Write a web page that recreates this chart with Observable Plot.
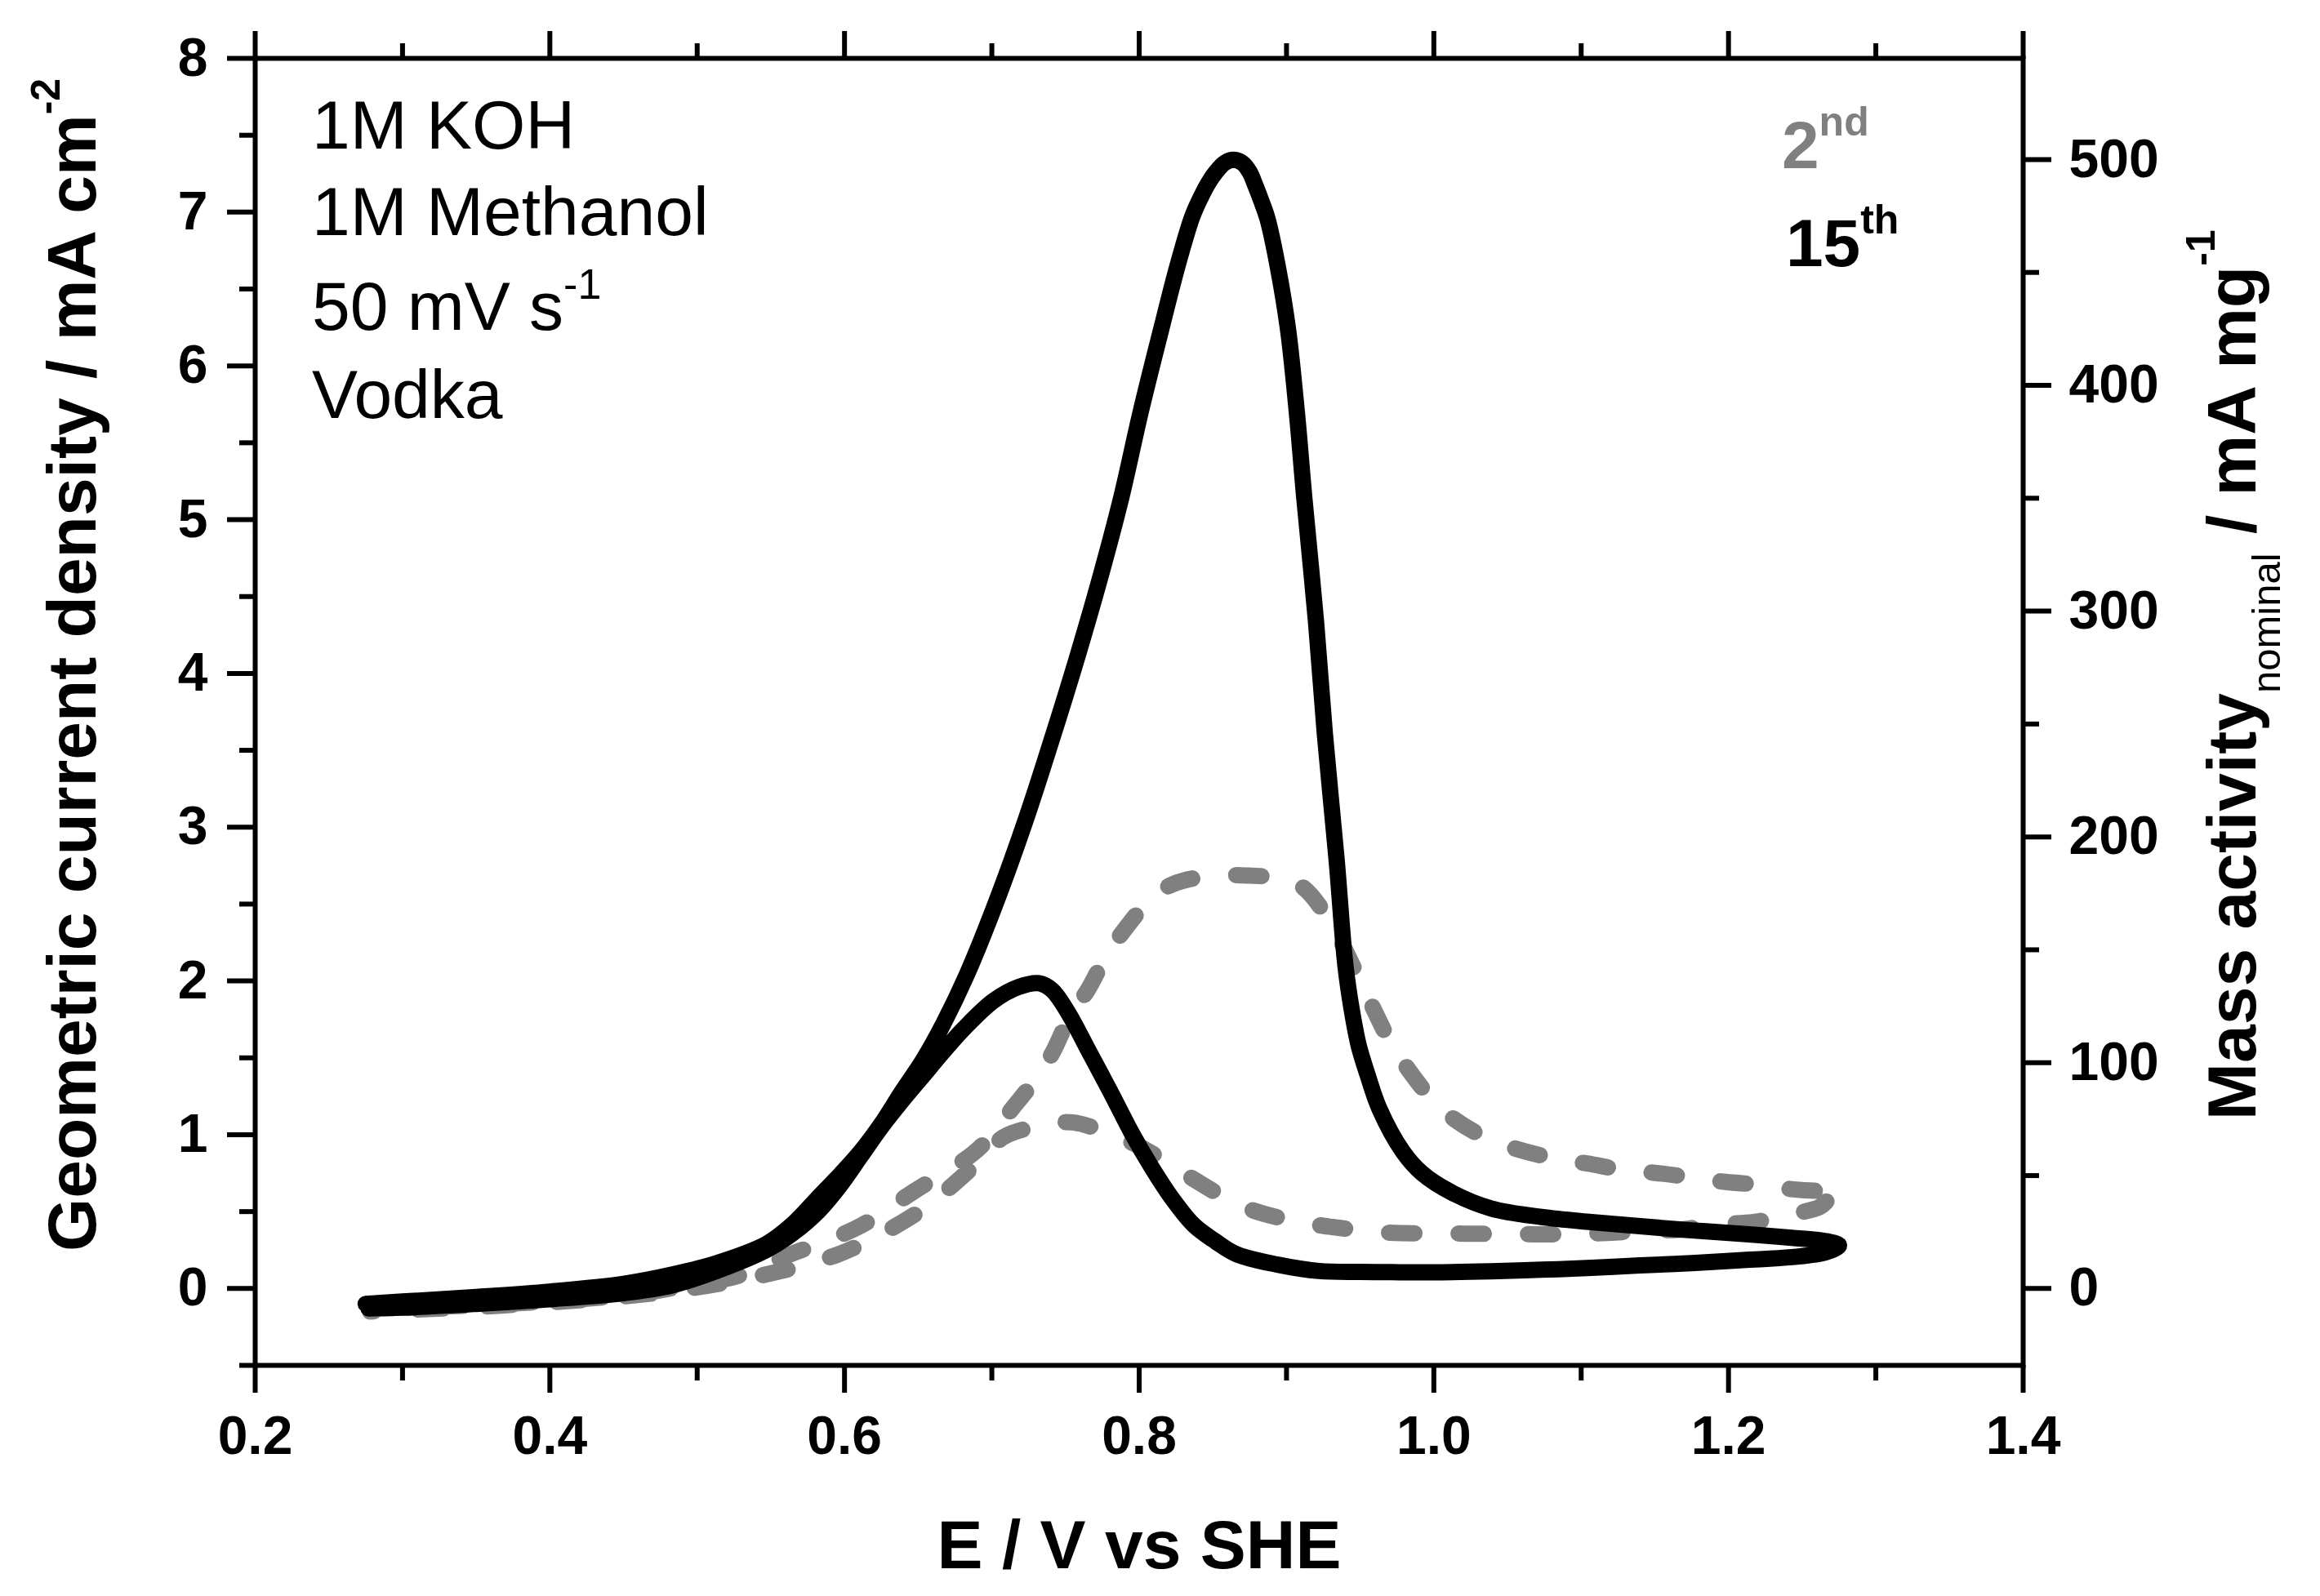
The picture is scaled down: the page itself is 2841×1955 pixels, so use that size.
<!DOCTYPE html>
<html>
<head>
<meta charset="utf-8">
<script src="https://cdn.jsdelivr.net/npm/d3@7"></script>
<script src="https://cdn.jsdelivr.net/npm/@observablehq/plot@0.6"></script>
<style>
  html, body { margin: 0; padding: 0; background: #ffffff; }
  #chart svg { display: block; }
</style>
</head>
<body>
<div id="chart"></div>
<script>
// ---------- data ----------
// 15th cycle, forward (anodic) scan
const E15_fwd = [0.275,0.30,0.35,0.40,0.45,0.483,0.515,0.547,0.565,0.582,0.597,0.611,0.625,0.639,0.653,0.667,0.683,0.704,0.724,0.742,0.759,0.775,0.788,0.801,0.815,0.826,0.836,0.842,0.847,0.852,0.858,0.864,0.870,0.875,0.879,0.883,0.887,0.894,0.901,0.907,0.912,0.920,0.926,0.934,0.940,0.9445,0.949,0.955,0.963,0.979,0.992,1.013,1.039,1.073,1.107,1.140,1.175,1.210,1.243,1.265,1.275];
const J15_fwd = [-0.10,-0.085,-0.055,-0.02,0.03,0.09,0.17,0.29,0.42,0.59,0.74,0.89,1.07,1.28,1.48,1.72,2.04,2.54,3.076,3.61,4.14,4.675,5.15,5.70,6.24,6.65,6.97,7.10,7.19,7.26,7.32,7.34,7.32,7.26,7.17,7.07,6.96,6.65,6.24,5.70,5.15,4.34,3.61,2.79,2.10,1.80,1.58,1.39,1.17,0.89,0.75,0.62,0.52,0.465,0.432,0.405,0.378,0.355,0.33,0.31,0.28];
// 15th cycle, reverse (cathodic) scan
const E15_rev = [1.266,1.243,1.210,1.175,1.140,1.107,1.073,1.039,1.000,0.971,0.950,0.922,0.894,0.866,0.852,0.837,0.823,0.809,0.795,0.781,0.766,0.752,0.741,0.732,0.718,0.701,0.681,0.667,0.653,0.639,0.625,0.611,0.597,0.582,0.565,0.547,0.515,0.483,0.45,0.40,0.35,0.30,0.277];
const J15_rev = [0.235,0.204,0.185,0.165,0.150,0.134,0.122,0.112,0.105,0.106,0.108,0.114,0.155,0.223,0.305,0.413,0.577,0.78,1.01,1.27,1.54,1.79,1.94,1.985,1.96,1.87,1.69,1.54,1.38,1.22,1.05,0.86,0.67,0.50,0.36,0.25,0.12,0.02,-0.03,-0.07,-0.10,-0.125,-0.13];
// 2nd cycle, forward scan
const E2_fwd = [0.277,0.32,0.37,0.42,0.46,0.493,0.525,0.541,0.5615,0.5865,0.612,0.647,0.687,0.701,0.713,0.730,0.741,0.754,0.765,0.778,0.789,0.808,0.823,0.849,0.874,0.898,0.911,0.928,0.950,0.958,0.970,0.983,1.000,1.013,1.036,1.055,1.082,1.104,1.129,1.150,1.176,1.198,1.224,1.244,1.262,1.276];
const J2_fwd = [-0.13,-0.12,-0.10,-0.07,-0.035,0.02,0.075,0.125,0.215,0.305,0.413,0.631,0.876,1.01,1.16,1.365,1.53,1.79,1.94,2.17,2.32,2.535,2.63,2.685,2.685,2.665,2.61,2.41,2.0,1.84,1.61,1.42,1.216,1.107,0.976,0.911,0.845,0.813,0.77,0.752,0.721,0.693,0.672,0.645,0.635,0.64];
// 2nd cycle, reverse scan
const E2_rev = [1.268,1.262,1.239,1.217,1.192,1.168,1.146,1.118,1.100,1.072,1.053,1.025,1.006,0.978,0.958,0.931,0.920,0.893,0.874,0.851,0.832,0.799,0.774,0.755,0.740,0.728,0.708,0.686,0.652,0.615,0.596,0.574,0.553,0.520,0.480,0.440,0.400,0.350,0.300,0.278];
const J2_rev = [0.58,0.53,0.476,0.432,0.417,0.384,0.375,0.362,0.356,0.352,0.355,0.356,0.36,0.36,0.37,0.40,0.415,0.465,0.52,0.63,0.74,0.93,1.03,1.08,1.075,1.05,0.985,0.78,0.509,0.305,0.223,0.156,0.105,0.04,-0.02,-0.06,-0.09,-0.12,-0.14,-0.15];

// axis ticks
const xMajor = [0.2,0.4,0.6,0.8,1.0,1.2,1.4];
const xMinor = [0.3,0.5,0.7,0.9,1.1,1.3];
const yMajor = [0,1,2,3,4,5,6,7,8];
const yMinor = [-0.5,0.5,1.5,2.5,3.5,4.5,5.5,6.5,7.5];
const massMajor = [0,100,200,300,400,500];
const massMinor = [50,150,250,350,450];
const massPerCurrent = 68.1; // mA mg^-1 per mA cm^-2 (right axis scale factor)

// labels
const annotationLines = ["1M KOH","1M Methanol","50 mV s","Vodka"];
const legendLabels = [{base:"2", sup:"nd", color:"#808080"},{base:"15", sup:"th", color:"#000000"}];

// ---------- build tables ----------
const toRows = (E, J, branch) => E.map((e, i) => ({E: e, j: J[i], branch}));
const cycle15 = [...toRows(E15_fwd, J15_fwd, "fwd"), ...toRows(E15_rev, J15_rev, "rev")];
const cycle2  = [...toRows(E2_fwd, J2_fwd, "fwd"), ...toRows(E2_rev, J2_rev, "rev")];

const W = 2841, H = 1955;
const tickLabelFont = 66;
const majorLen = 34, minorLen = 19, tickW = 6;

const chart = Plot.plot({
  width: W,
  height: H,
  marginLeft: 312,
  marginRight: 364,
  marginTop: 71,
  marginBottom: 283,
  style: {fontFamily: "'Liberation Sans', Arial, sans-serif", fontWeight: "bold", background: "#ffffff", color: "#000000", overflow: "visible"},
  x: {domain: [0.2, 1.4]},
  y: {domain: [-0.5, 8]},
  marks: [
    Plot.line(cycle2, {x: "E", y: "j", stroke: "#808080", strokeWidth: 20, strokeDasharray: "31,54", strokeLinecap: "round", strokeLinejoin: "round", curve: "catmull-rom"}),
    Plot.line(cycle15, {x: "E", y: "j", stroke: "#000000", strokeWidth: 20, strokeLinecap: "round", strokeLinejoin: "round", curve: "catmull-rom"}),
    // bottom axis
    Plot.axisX({anchor: "bottom", ticks: xMajor, tickSize: majorLen, tickPadding: 28, strokeWidth: tickW, fontSize: tickLabelFont, fontWeight: "bold", tickFormat: d3.format(".1f"), label: null}),
    Plot.axisX({anchor: "bottom", ticks: xMinor, tickSize: minorLen, strokeWidth: tickW, tickFormat: () => "", label: null}),
    // top axis (ticks only)
    Plot.axisX({anchor: "top", ticks: xMajor, tickSize: majorLen, strokeWidth: tickW, tickFormat: () => "", label: null}),
    Plot.axisX({anchor: "top", ticks: xMinor, tickSize: minorLen, strokeWidth: tickW, tickFormat: () => "", label: null}),
    // left axis
    Plot.axisY({anchor: "left", ticks: yMajor, tickSize: majorLen, tickPadding: 24, strokeWidth: tickW, fontSize: tickLabelFont, fontWeight: "bold", tickFormat: d => String(d), label: null}),
    Plot.axisY({anchor: "left", ticks: yMinor, tickSize: minorLen, strokeWidth: tickW, tickFormat: () => "", label: null}),
    // right axis (mass activity)
    Plot.axisY({anchor: "right", ticks: massMajor.map(v => v / massPerCurrent), tickSize: majorLen, tickPadding: 22, strokeWidth: tickW, fontSize: tickLabelFont, fontWeight: "bold", tickFormat: d => String(Math.round(d * massPerCurrent)), label: null}),
    Plot.axisY({anchor: "right", ticks: massMinor.map(v => v / massPerCurrent), tickSize: minorLen, strokeWidth: tickW, tickFormat: () => "", label: null}),
    Plot.frame({stroke: "#000000", strokeWidth: tickW})
  ]
});

document.getElementById("chart").appendChild(chart);

// ---------- text with super/subscripts ----------
const svg = d3.select(chart);
const FONT = "'Liberation Sans', Arial, sans-serif";
function richText(x, y, parts, {anchor = "start", rotate = 0, fill = "#000000"} = {}) {
  const t = svg.append("text")
    .attr("transform", `translate(${x},${y}) rotate(${rotate})`)
    .attr("text-anchor", anchor)
    .attr("font-family", FONT)
    .attr("fill", fill);
  let cur = 0;
  for (const p of parts) {
    const shift = p.shift || 0;
    t.append("tspan")
      .attr("dy", (cur - shift))
      .attr("font-size", p.size)
      .attr("font-weight", p.weight || "normal")
      .text(p.text);
    cur = shift;
  }
  return t;
}

// axis titles
richText(1395, 1921, [{text: "E / V vs SHE", size: 84, weight: "bold"}], {anchor: "middle"});
richText(117, 1533, [
  {text: "Geometric current density / mA cm", size: 84, weight: "bold"},
  {text: "-2", size: 50, weight: "bold", shift: 44}
], {rotate: -90});
richText(2762, 1372, [
  {text: "Mass activity", size: 84, weight: "bold"},
  {text: "nominal", size: 49, weight: "normal", shift: -30},
  {text: " / mA mg", size: 84, weight: "bold", shift: 0},
  {text: "-1", size: 50, weight: "bold", shift: 50}
], {rotate: -90});

// conditions annotation
const annX = 382, annBase = [182, 288, 404, 512];
annotationLines.forEach((line, i) => {
  const parts = [{text: line, size: 84, weight: "normal"}];
  if (i === 2) parts.push({text: "-1", size: 52, weight: "normal", shift: 38});
  richText(annX, annBase[i], parts);
});

// cycle legend
const legX = [2182, 2187], legBase = [206, 326];
legendLabels.forEach((l, i) => {
  richText(legX[i], legBase[i], [
    {text: l.base, size: 82, weight: "bold"},
    {text: l.sup, size: 50, weight: "bold", shift: 40}
  ], {fill: l.color});
});
</script>
</body>
</html>
